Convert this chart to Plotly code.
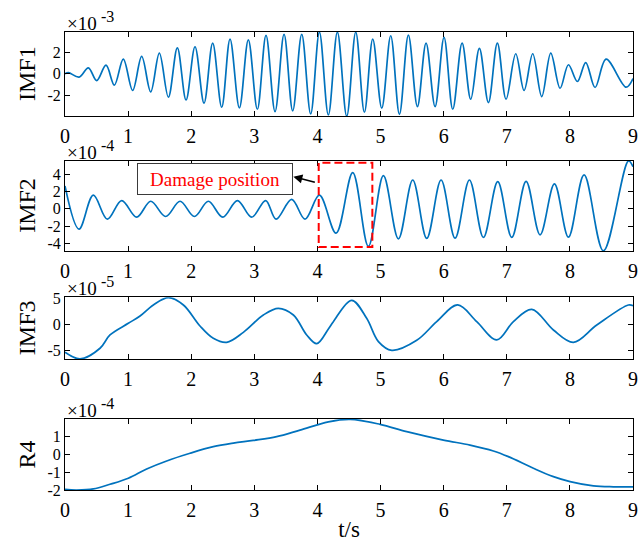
import plotly.graph_objects as go

# ---- IMF1: local extrema of the first mode (t in s, amplitude in 1e-3) ----
imf1_t = [0.0, 0.053, 0.222, 0.370, 0.502, 0.650, 0.782, 0.924, 1.072, 1.215,
          1.358, 1.495, 1.638, 1.780, 1.918, 2.060, 2.203, 2.340, 2.483, 2.615,
          2.763, 2.905, 3.048, 3.185, 3.328, 3.471, 3.608, 3.751, 3.893, 4.031,
          4.173, 4.316, 4.464, 4.607, 4.744, 4.876, 5.019, 5.161, 5.299, 5.441,
          5.584, 5.721, 5.864, 6.006, 6.144, 6.292, 6.429, 6.566, 6.709, 6.851,
          6.989, 7.142, 7.274, 7.411, 7.554, 7.697, 7.845, 7.977, 8.119, 8.251,
          8.399, 8.574, 8.891, 9.0]
imf1_v = [0.0, 0.12, -0.31, 0.56, -0.63, 0.81, -1.06, 1.38, -1.56, 1.63,
          -1.69, 1.94, -2.19, 2.44, -2.44, 2.54, -2.75, 2.88, -3.13, 3.26,
          -3.19, 3.19, -3.32, 3.60, -3.54, 3.69, -3.47, 3.69, -3.76, 3.91,
          -3.85, 3.91, -3.97, 3.91, -3.60, 3.26, -3.22, 3.57, -3.79, 3.63,
          -3.07, 2.88, -3.07, 3.41, -3.32, 2.88, -2.38, 2.38, -2.69, 2.88,
          -2.38, 1.88, -1.56, 1.88, -2.13, 1.94, -1.35, 0.85, -0.72, 1.06,
          -1.28, 1.38, -1.25, -0.44]

# ---- IMF2: local extrema (amplitude in 1e-4) ----
imf2_t = [0.0, 0.222, 0.449, 0.671, 0.898, 1.136, 1.358, 1.595, 1.823, 2.050,
          2.272, 2.499, 2.732, 2.958, 3.180, 3.344, 3.592, 3.803, 4.031, 4.295,
          4.559, 4.807, 5.045, 5.283, 5.510, 5.732, 5.959, 6.181, 6.408, 6.630,
          6.857, 7.079, 7.306, 7.528, 7.755, 7.977, 8.225, 8.531, 8.928, 9.0]
imf2_v = [2.65, -2.34, 1.58, -1.19, 0.96, -0.96, 0.88, -0.88, 0.88, -0.88,
          0.88, -0.96, 0.96, -0.96, 0.96, -1.19, 1.11, -1.19, 1.58, -2.80,
          4.19, -4.34, 3.84, -3.46, 3.34, -3.42, 3.34, -3.38, 3.34, -3.30,
          3.15, -3.30, 3.19, -3.00, 2.88, -3.27, 3.92, -4.85, 5.55, 4.88]

# ---- IMF3 (amplitude in 1e-5) ----
imf3_t = [0.0, 0.238, 0.555, 0.713, 1.003, 1.189, 1.40, 1.638, 1.876, 2.139,
          2.35, 2.562, 2.826, 3.143, 3.381, 3.619, 3.83, 3.989, 4.173, 4.252,
          4.543, 4.78, 4.966, 5.177, 5.573, 5.89, 6.223, 6.524, 6.841, 7.105,
          7.396, 7.739, 8.056, 8.426, 8.927, 9.0]
imf3_v = [-5.38, -6.65, -4.6, -2.05, 0.19, 1.6, 3.72, 5.13, 3.72, -0.32,
          -2.69, -3.46, -1.54, 1.79, 3.08, 1.79, -2.05, -3.72, -0.9, 0.51,
          4.62, 1.15, -3.33, -5.0, -3.08, 0.51, 3.72, 0.51, -3.01, 0.51,
          2.88, -1.09, -3.46, -0.13, 3.72, 3.59]

# ---- R4 residue (amplitude in 1e-4) ----
r4_t = [0.0, 0.185, 0.449, 0.713, 1.003, 1.294, 1.611, 1.981, 2.35, 2.667,
        2.984, 3.354, 3.724, 4.173, 4.517, 4.992, 5.415, 5.995, 6.418, 6.788,
        7.026, 7.422, 7.739, 8.003, 8.373, 8.69, 9.0]
r4_v = [-1.97, -2.0, -1.94, -1.68, -1.34, -0.82, -0.37, 0.06, 0.43, 0.63,
        0.78, 0.99, 1.36, 1.82, 1.96, 1.68, 1.27, 0.80, 0.52, 0.19,
        -0.13, -0.78, -1.25, -1.53, -1.77, -1.82, -1.82]

x_ticks = list(range(10))

names = ["IMF1", "IMF2", "IMF3", "R4"]
exponents = ["-3", "-4", "-5", "-4"]
series = [(imf1_t, imf1_v), (imf2_t, imf2_v), (imf3_t, imf3_v), (r4_t, r4_v)]
y_ranges = [[-3.95, 3.92], [-4.87, 5.57], [-6.67, 5.19], [-2.0, 1.98]]
y_ticks = [[-2, 0, 2], [-4, -2, 0, 2, 4], [-5, 0, 5], [-2, -1, 0, 1]]
domains = [[0.8166, 1.0], [0.5218, 0.719], [0.286, 0.4207], [0.0, 0.155]]

SERIF = "Liberation Serif"
LINE_BLUE = "#0072BD"

fig = go.Figure()
layout = dict(
    width=644, height=542,
    margin=dict(l=65, r=11, t=32, b=52),
    paper_bgcolor="white", plot_bgcolor="white",
    showlegend=False,
    font=dict(family=SERIF, color="black"),
)
annotations = []

for i, ((t, v), name, expo, yr, yt, dom) in enumerate(
        zip(series, names, exponents, y_ranges, y_ticks, domains), start=1):
    sfx = "" if i == 1 else str(i)
    fig.add_trace(go.Scatter(
        x=t, y=v, mode="lines",
        line=dict(color=LINE_BLUE, width=1.7, shape="spline", smoothing=1.0),
        xaxis="x" + sfx, yaxis="y" + sfx, hoverinfo="skip"))

    layout["xaxis" + sfx] = dict(
        domain=[0, 1], anchor="y" + sfx, range=[0, 9], automargin=False,
        tickvals=x_ticks, ticktext=[str(k) for k in x_ticks],
        ticks="inside", ticklen=5, tickwidth=1, tickcolor="black",
        ticklabelstandoff=2,
        showline=True, linecolor="black", linewidth=1, mirror="ticks",
        showgrid=False, zeroline=False,
        tickfont=dict(family=SERIF, size=20, color="black"))
    layout["yaxis" + sfx] = dict(
        domain=dom, anchor="x" + sfx, range=yr, automargin=False,
        tickvals=yt, ticktext=[str(k) for k in yt],
        ticks="inside", ticklen=5, tickwidth=1, tickcolor="black",
        showline=True, linecolor="black", linewidth=1, mirror="ticks",
        showgrid=False, zeroline=False,
        tickfont=dict(family=SERIF, size=16, color="black"))

    # panel title on the left
    annotations.append(dict(
        text=name, xref="paper", yref="paper",
        x=-0.0669, y=(dom[0] + dom[1]) / 2, xanchor="center", yanchor="middle",
        textangle=-90, showarrow=False,
        font=dict(family=SERIF, size=24, color="black")))
    # axis exponent: base and raised power
    annotations.append(dict(
        text="×10", xref="paper", yref="paper",
        x=0.0, y=dom[1], xanchor="left", yanchor="bottom", yshift=-4,
        showarrow=False, font=dict(family=SERIF, size=19, color="black")))
    annotations.append(dict(
        text=expo, xref="paper", yref="paper",
        x=0.0, y=dom[1], xanchor="left", yanchor="bottom",
        xshift=34, yshift=5,
        showarrow=False, font=dict(family=SERIF, size=16, color="black")))

layout["xaxis4"]["title"] = dict(text="t/s", standoff=8,
                                 font=dict(family=SERIF, size=23, color="black"))

# damage region marker on IMF2
damage_x = [4.02, 4.87]
damage_y = [-4.42, 5.34]
fig.add_shape(type="rect", xref="x2", yref="y2",
              x0=damage_x[0], x1=damage_x[1], y0=damage_y[0], y1=damage_y[1],
              line=dict(color="#FF0000", width=2, dash="8px,4px"),
              fillcolor="rgba(0,0,0,0)")

annotations.append(dict(
    text="Damage position", xref="x2", yref="y2", x=2.382, y=3.40,
    xanchor="center", yanchor="middle", showarrow=False,
    width=150, height=26, borderpad=2,
    bgcolor="white", bordercolor="#3a3a3a", borderwidth=1,
    font=dict(family=SERIF, size=19, color="#FF0000")))
annotations.append(dict(
    text="", xref="x2", yref="y2", x=3.618, y=3.72,
    showarrow=True, ax=23, ay=6, axref="pixel", ayref="pixel",
    arrowhead=2, arrowsize=1.2, arrowwidth=1.5, arrowcolor="black",
    standoff=0, startstandoff=0))

layout["annotations"] = annotations
fig.update_layout(**layout)
fig.write_html("out.html")
